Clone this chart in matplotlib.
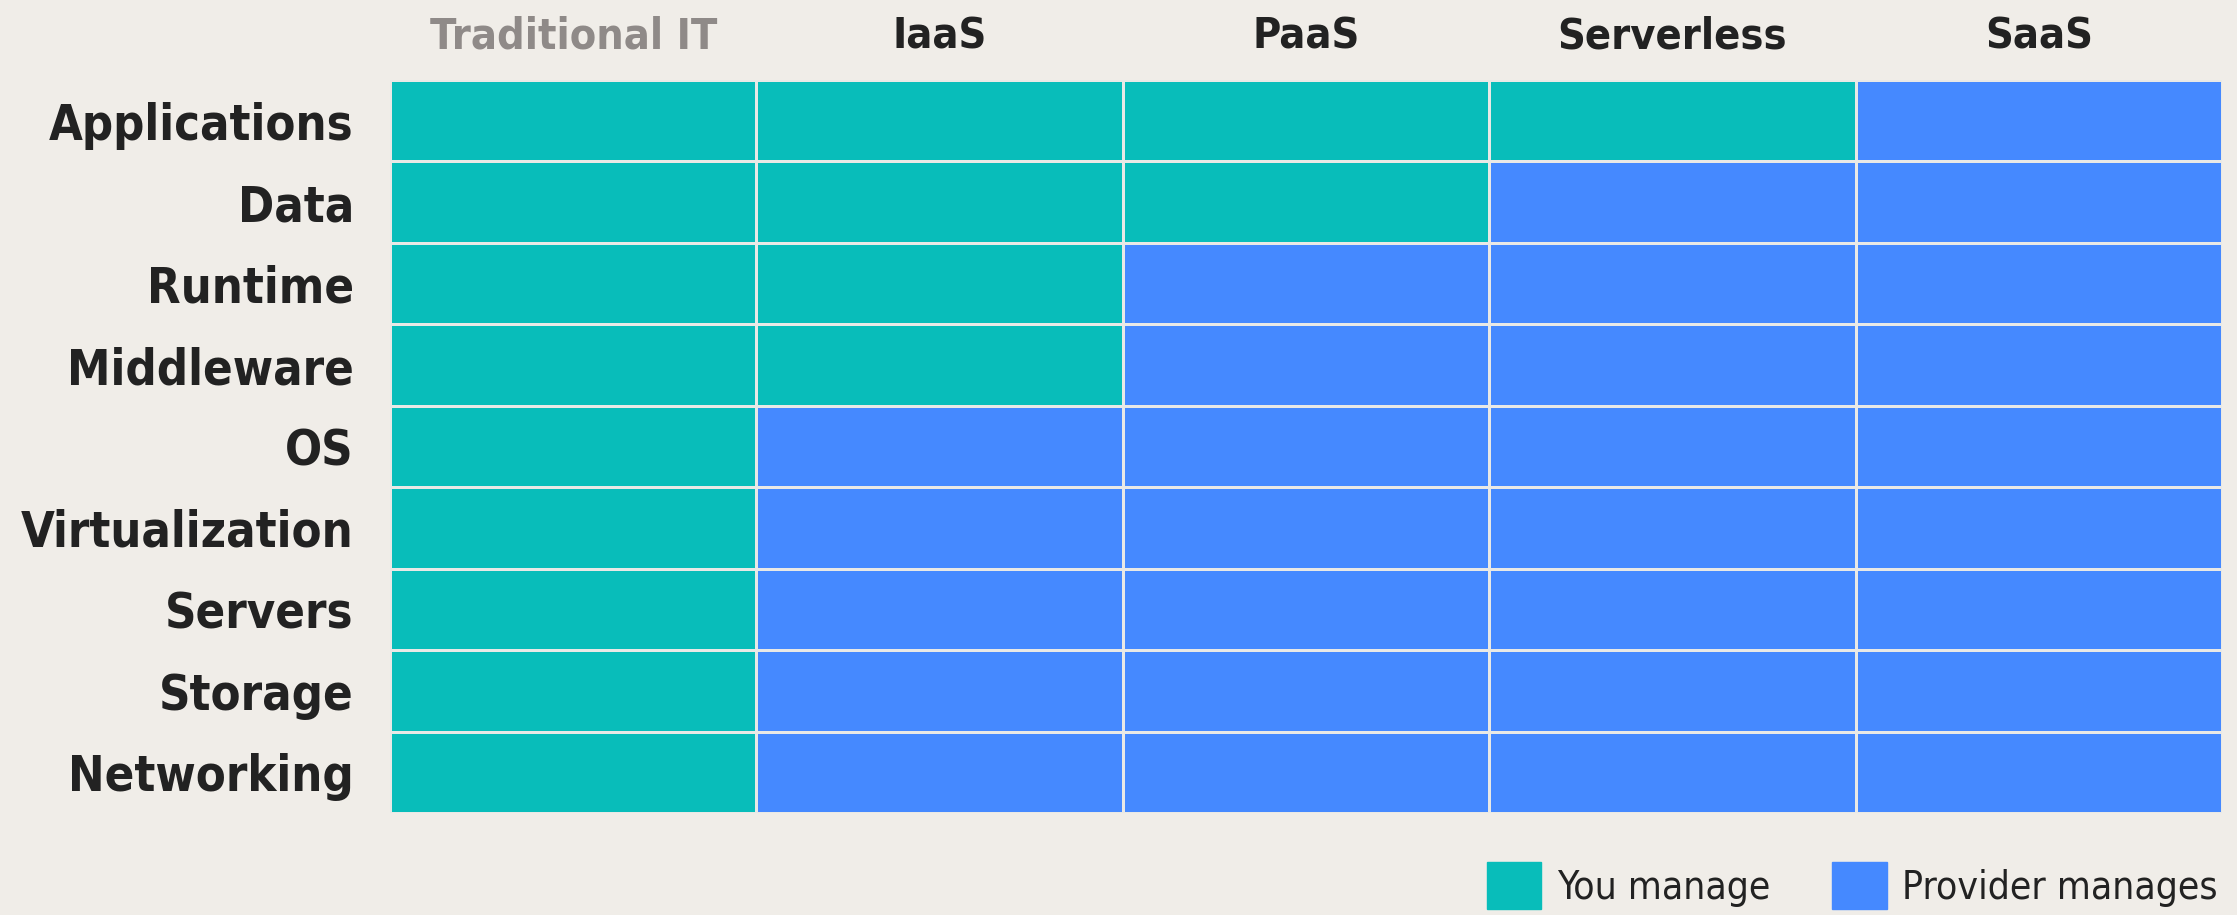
import numpy as np
import matplotlib.pyplot as plt
from matplotlib.colors import ListedColormap
from matplotlib.patches import Rectangle

layers = ["Applications", "Data", "Runtime", "Middleware", "OS",
          "Virtualization", "Servers", "Storage", "Networking"]
models = ["Traditional IT", "IaaS", "PaaS", "Serverless", "SaaS"]
# how many layers (from the top) you manage yourself in each model
you_manage = [9, 4, 2, 1, 0]
legend_labels = ["You manage", "Provider manages"]

teal = "#08bdba"
blue = "#4589ff"
bg = "#f0ede8"

# 0 = you manage, 1 = provider manages
grid = np.ones((len(layers), len(models)))
for j, n in enumerate(you_manage):
    grid[:n, j] = 0

fig = plt.figure(figsize=(22.37, 9.15), dpi=100, facecolor=bg)
ax = fig.add_axes([390 / 2237, 1 - 813 / 915, (2222 - 390) / 2237, (813 - 80) / 915])
ax.set_facecolor(bg)

ax.pcolormesh(grid, cmap=ListedColormap([teal, blue]), vmin=0, vmax=1,
              edgecolors="#e9e9e6", linewidth=2)
ax.set_xlim(0, len(models))
ax.set_ylim(len(layers), 0)

for s in ax.spines.values():
    s.set_visible(False)

ax.xaxis.tick_top()
ax.set_xticks(np.arange(len(models)) + 0.5)
ax.set_xticklabels(models, fontsize=31, fontweight="bold",
                   family="DejaVu Sans", fontstretch="condensed", color="#222222")
ax.get_xticklabels()[0].set_color("#8f8a88")
ax.tick_params(axis="x", length=0, pad=16)

ax.set_yticks(np.arange(len(layers)) + 0.5)
ax.set_yticklabels(layers, fontsize=35, fontweight="bold",
                   family="DejaVu Sans", fontstretch="condensed", color="#222222")
ax.tick_params(axis="y", length=0, pad=26)

# legend at bottom right
handles = [Rectangle((0, 0), 1, 1, color=teal), Rectangle((0, 0), 1, 1, color=blue)]
fig.legend(handles, legend_labels, loc="upper right", bbox_to_anchor=(2218 / 2237, 1 - 862 / 915),
           ncol=2, frameon=False, handlelength=1.4, handleheight=1.5,
           handletextpad=0.4, columnspacing=1.6, borderpad=0, borderaxespad=0,
           labelcolor="#222222",
           prop={"family": "DejaVu Sans", "stretch": "condensed", "size": 28})

fig.savefig("out.png", dpi=100, facecolor=bg)
